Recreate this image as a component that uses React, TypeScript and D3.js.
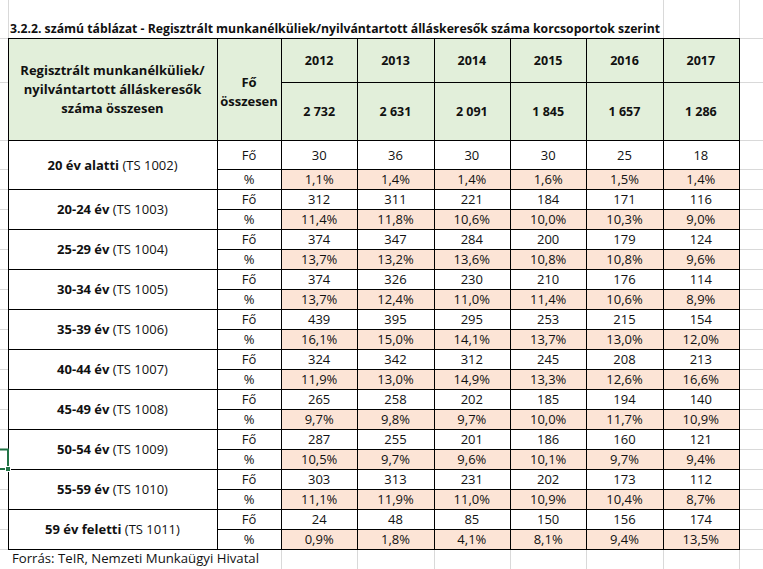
import React from 'react';
import * as d3 from 'd3';

// --- data ---
const years = ['2012', '2013', '2014', '2015', '2016', '2017'];
const totals = [2732, 2631, 2091, 1845, 1657, 1286];

const groupNames = ['20 év alatti', '20-24 év', '25-29 év', '30-34 év', '35-39 év',
  '40-44 év', '45-49 év', '50-54 év', '55-59 év', '59 év feletti'];
const groupCodes = ['TS 1002', 'TS 1003', 'TS 1004', 'TS 1005', 'TS 1006',
  'TS 1007', 'TS 1008', 'TS 1009', 'TS 1010', 'TS 1011'];

const counts = [
  [30, 36, 30, 30, 25, 18],
  [312, 311, 221, 184, 171, 116],
  [374, 347, 284, 200, 179, 124],
  [374, 326, 230, 210, 176, 114],
  [439, 395, 295, 253, 215, 154],
  [324, 342, 312, 245, 208, 213],
  [265, 258, 202, 185, 194, 140],
  [287, 255, 201, 186, 160, 121],
  [303, 313, 231, 202, 173, 112],
  [24, 48, 85, 150, 156, 174],
];
const percents = [
  [1.1, 1.4, 1.4, 1.6, 1.5, 1.4],
  [11.4, 11.8, 10.6, 10.0, 10.3, 9.0],
  [13.7, 13.2, 13.6, 10.8, 10.8, 9.6],
  [13.7, 12.4, 11.0, 11.4, 10.6, 8.9],
  [16.1, 15.0, 14.1, 13.7, 13.0, 12.0],
  [11.9, 13.0, 14.9, 13.3, 12.6, 16.6],
  [9.7, 9.8, 9.7, 10.0, 11.7, 10.9],
  [10.5, 9.7, 9.6, 10.1, 9.7, 9.4],
  [11.1, 11.9, 11.0, 10.9, 10.4, 8.7],
  [0.9, 1.8, 4.1, 8.1, 9.4, 13.5],
];

const title = '3.2.2. számú táblázat - Regisztrált munkanélküliek/nyilvántartott álláskeresők száma korcsoportok szerint';
const source = 'Forrás: TeIR, Nemzeti Munkaügyi Hivatal';

// --- layout ---
const W = 763;
const H = 569;
const X0 = 8;     // table left
const XF = 217;   // "Fő/%" column
const XL = 281;   // first year column
const XR = 739;   // table right
const YT = 38;    // table top
const YM = 82;    // year / total split
const YH = 140;   // header bottom
const firstRowH = 29;
const rowH = 20;

const FONT = "'Open Sans', 'Noto Sans', sans-serif";
const GREEN = '#E2EFDA';
const PINK = '#FCE4D6';
const GRID = '#D9D9D9';

const locale = d3.formatLocale({ decimal: ',', thousands: ' ', grouping: [3], currency: ['', ''] });
const fmtInt = locale.format(',d');
const fmtPct = locale.format('.1f');

export default function App() {
  const x = d3.scaleBand<string>().domain(years).range([XL, XR]);
  const cx = (yr: string) => (x(yr) as number) + x.bandwidth() / 2;

  // row boundaries (two rows per age group)
  const heights = groupNames.flatMap((_, i) => [i === 0 ? firstRowH : rowH, rowH]);
  const edges = [YH, ...Array.from(d3.cumsum(heights), (v) => YH + v)];
  const yBottom = edges[edges.length - 1];

  const colEdges = [X0, XF, ...years.map((y) => x(y) as number), XR];

  const txt = (tx: number, ty: number, s: string, bold = false, size = 13) => (
    <text x={tx} y={ty} textAnchor="middle" fontFamily={FONT} fontSize={size}
      fontWeight={bold ? 700 : 400} fill="#111">{s}</text>
  );

  // selected cell (left of the table)
  const selTop = edges[15];
  const selBot = edges[16];

  return (
    <svg width={W} height={H} style={{ position: 'absolute', left: 0, top: 0, background: '#fff' }}>
      {/* excel gridlines outside the table */}
      <g stroke={GRID} strokeWidth={1} shapeRendering="crispEdges">
        {[YT, YM, ...edges].map((e, i) => (
          <g key={'h' + i}>
            <line x1={0} x2={X0} y1={e + 0.5} y2={e + 0.5} />
            <line x1={XR} x2={W} y1={e + 0.5} y2={e + 0.5} />
          </g>
        ))}
        <line x1={X0 + 0.5} x2={X0 + 0.5} y1={0} y2={YT} />
        {[x('2017') as number, XR].map((e, i) => (
          <line key={'vt' + i} x1={e + 0.5} x2={e + 0.5} y1={0} y2={YT} />
        ))}
        {colEdges.slice(2).map((e, i) => (
          <line key={'vb' + i} x1={e + 0.5} x2={e + 0.5} y1={yBottom} y2={H} />
        ))}
      </g>

      {/* header fill */}
      <rect x={X0} y={YT} width={XR - X0} height={YH - YT} fill={GREEN} />

      {/* percent row fills */}
      {groupNames.map((_, g) => (
        <rect key={'p' + g} x={XL} y={edges[2 * g + 1]} width={XR - XL}
          height={edges[2 * g + 2] - edges[2 * g + 1]} fill={PINK} />
      ))}

      {/* borders */}
      <g stroke="#000" strokeWidth={1} shapeRendering="crispEdges">
        <rect x={X0 + 0.5} y={YT + 0.5} width={XR - X0} height={yBottom - YT} fill="none" />
        <line x1={XL} x2={XR} y1={YM + 0.5} y2={YM + 0.5} />
        {edges.map((e, i) => (
          <line key={'r' + i} x1={i % 2 === 1 ? XF : X0} x2={XR} y1={e + 0.5} y2={e + 0.5} />
        ))}
        {colEdges.slice(1, -1).map((e, i) => (
          <line key={'c' + i} x1={e + 0.5} x2={e + 0.5} y1={YT} y2={yBottom} />
        ))}
      </g>

      {/* title */}
      <text x={10} y={33} fontFamily={FONT} fontSize={13} fontWeight={700} fill="#111"
        textLength={650} lengthAdjust="spacingAndGlyphs">{title}</text>

      {/* header text */}
      {txt((X0 + XF) / 2, 75, 'Regisztrált munkanélküliek/', true)}
      {txt((X0 + XF) / 2, 94, 'nyilvántartott álláskeresők', true)}
      {txt((X0 + XF) / 2, 113, 'száma összesen', true)}
      {txt((XF + XL) / 2, 87, 'Fő', true)}
      {txt((XF + XL) / 2, 106, 'összesen', true)}
      {years.map((yr, i) => (
        <g key={yr}>
          {txt(cx(yr), 65, yr, true, 12.5)}
          {txt(cx(yr), 116, fmtInt(totals[i]), true, 12.5)}
        </g>
      ))}

      {/* body */}
      {groupNames.map((name, g) => {
        const top = edges[2 * g];
        const mid = edges[2 * g + 1];
        const bot = edges[2 * g + 2];
        return (
          <g key={name}>
            <text x={(X0 + XF) / 2} y={(top + bot) / 2 + 5} textAnchor="middle"
              fontFamily={FONT} fontSize={13} fill="#111">
              <tspan fontWeight={700}>{name}</tspan>
              <tspan> ({groupCodes[g]})</tspan>
            </text>
            {txt((XF + XL) / 2, (top + mid) / 2 + 5, 'Fő')}
            {txt((XF + XL) / 2, (mid + bot) / 2 + 5, '%')}
            {years.map((yr, i) => (
              <g key={yr}>
                {txt(cx(yr), (top + mid) / 2 + 5, fmtInt(counts[g][i]))}
                {txt(cx(yr), (mid + bot) / 2 + 5, fmtPct(percents[g][i]) + '%')}
              </g>
            ))}
          </g>
        );
      })}

      {/* source */}
      <text x={12} y={563} fontFamily={FONT} fontSize={13} fill="#111"
        textLength={247} lengthAdjust="spacingAndGlyphs">{source}</text>

      {/* selected cell marker on the left */}
      <polyline points={`0,${selTop + 0.5} ${X0},${selTop + 0.5} ${X0},${selBot} 0,${selBot}`}
        stroke="#217346" strokeWidth={2} fill="none" />
      <rect x={X0 - 2.5} y={selBot - 2.5} width={5} height={5} fill="#217346" stroke="#fff" strokeWidth={1} />
    </svg>
  );
}
